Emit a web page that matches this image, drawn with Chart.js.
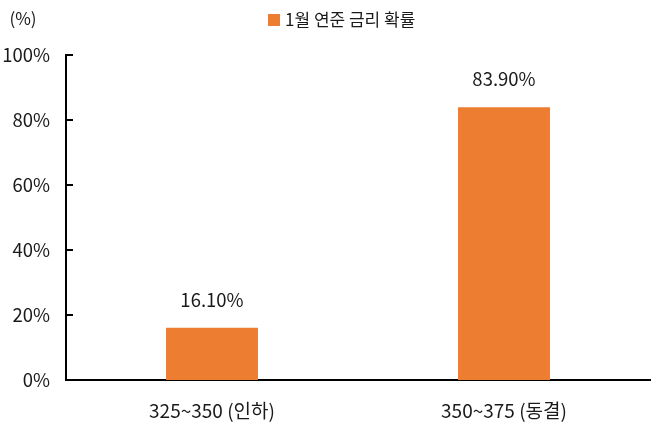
<!DOCTYPE html>
<html>
<head>
<meta charset="utf-8">
<script src="https://cdn.jsdelivr.net/npm/chart.js@4"></script>
<style>
  html, body { margin:0; padding:0; background:#fff; }
  #wrap { width:658px; height:427px; }
</style>
</head>
<body>
<div id="wrap"><canvas id="chart"></canvas></div>
<script>
const categories = ['325~350 (인하)', '350~375 (동결)'];
const probs = [16.10, 83.90];
const seriesName = '1월 연준 금리 확률';
const yTicks = [0, 20, 40, 60, 80, 100];
const unitLabel = '(%)';

const FONT = '"Noto Sans CJK KR", "Noto Sans", sans-serif';
const TXT = '#1a1a1a';
const ORANGE = '#ED7D31';

// inward y ticks, value labels, legend row and the (%) unit
const extras = {
  id: 'extras',
  afterDraw(chart) {
    const ctx = chart.ctx;
    const y = chart.scales.y;
    const left = chart.chartArea.left;
    ctx.save();
    ctx.strokeStyle = '#000';
    ctx.lineWidth = 2;
    yTicks.forEach(v => {
      if (v === 0) return;
      const py = y.getPixelForValue(v);
      ctx.beginPath();
      ctx.moveTo(left, py);
      ctx.lineTo(left + 7, py);
      ctx.stroke();
    });

    ctx.fillStyle = TXT;
    ctx.font = '18.5px ' + FONT;
    ctx.textAlign = 'center';
    ctx.textBaseline = 'middle';
    chart.getDatasetMeta(0).data.forEach((bar, i) => {
      ctx.fillText(probs[i].toFixed(2) + '%', bar.x, bar.y - 28);
    });

    ctx.font = '17px ' + FONT;
    ctx.fillText(unitLabel, 23, 19);

    // legend
    ctx.fillStyle = ORANGE;
    ctx.fillRect(268, 14, 12, 12);
    ctx.fillStyle = TXT;
    ctx.textAlign = 'left';
    ctx.fillText(seriesName, 285, 20);
    ctx.restore();
  }
};

new Chart(document.getElementById('chart').getContext('2d'), {
  type: 'bar',
  data: {
    labels: categories,
    datasets: [{
      label: seriesName,
      data: probs,
      backgroundColor: ORANGE,
      borderWidth: 0,
      categoryPercentage: 1,
      barPercentage: 0.315
    }]
  },
  options: {
    responsive: true,
    maintainAspectRatio: false,
    animation: false,
    layout: { padding: { left:0, right:8, top:55, bottom:0 } },
    plugins: {
      legend: { display:false },
      tooltip: { enabled:false }
    },
    scales: {
      x: {
        grid: { display:false, drawTicks:false },
        border: { display:true, color:'#000', width:2 },
        ticks: { color: TXT, font: { family: FONT, size: 19 }, padding: 19 },
        afterFit(s) { s.height = 47; }
      },
      y: {
        min: 0, max: 100,
        grid: { display:false, drawTicks:false },
        border: { display:true, color:'#000', width:2 },
        ticks: {
          stepSize: 20,
          color: TXT,
          font: { family: FONT, size: 18.5 },
          padding: 16,
          callback: v => v + '%'
        },
        afterFit(s) { s.width = 66; }
      }
    }
  },
  plugins: [extras]
});
</script>
</body>
</html>
